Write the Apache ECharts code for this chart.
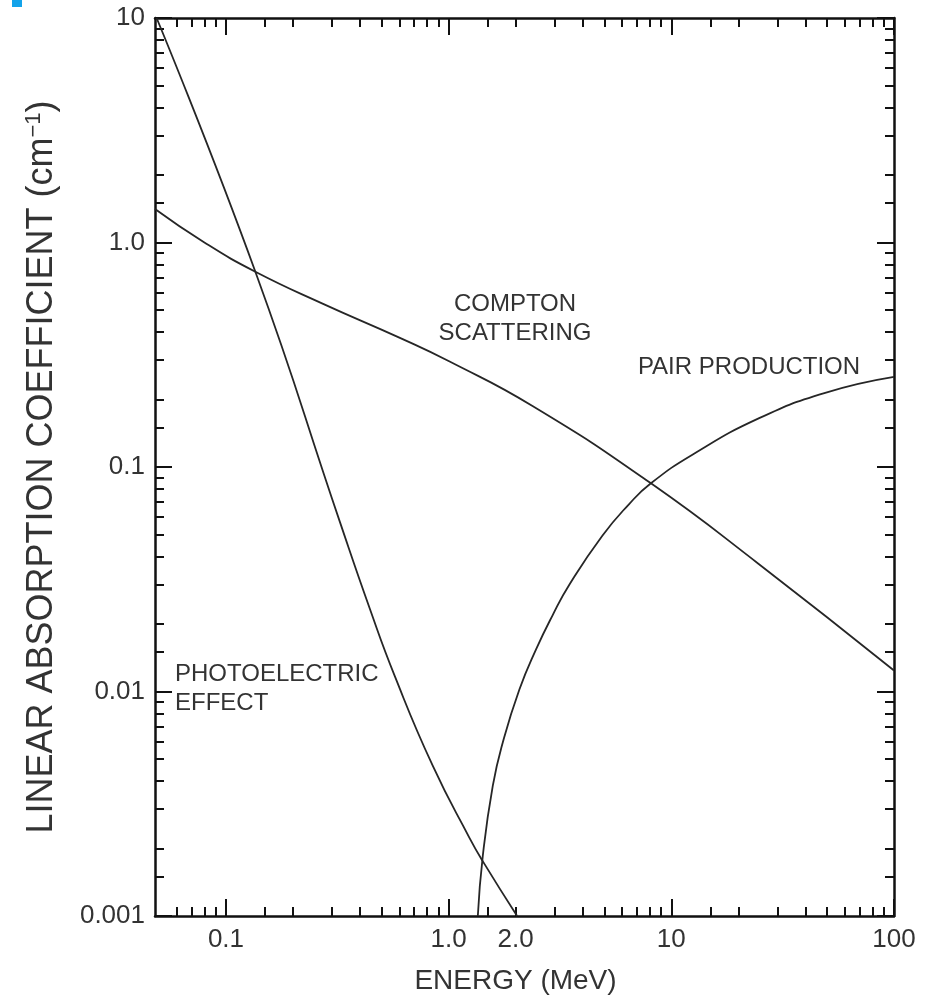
<!DOCTYPE html>
<html lang="en">
<head>
<meta charset="UTF-8">
<title>Linear absorption coefficient vs energy</title>
<style>
  html, body { margin: 0; padding: 0; background: #fff; }
  #chart { width: 940px; height: 1000px; }
</style>
</head>
<body>
<div id="chart"></div>
<script src="https://cdn.jsdelivr.net/npm/echarts@6.0.0/dist/echarts.min.js"></script>
<script>
// energy in MeV, coefficient in cm^-1
const photoEnergy = [0.0488, 0.1355, 0.325, 0.443, 0.573, 0.848, 1.24, 1.42, 2.03];
const photoCoef = [10, 0.741, 0.0568, 0.0233, 0.0117, 0.00467, 0.00223, 0.00176, 0.001];

const comptonEnergy = [0.048, 0.08, 0.1355, 0.273, 0.604, 1.01, 2.38, 8.07, 24.6, 100];
const comptonCoef = [1.41, 1.0, 0.741, 0.533, 0.376, 0.295, 0.187, 0.0848, 0.0371, 0.0124];

const pairEnergy = [1.352, 1.424, 1.578, 1.75, 2.078, 2.469, 2.929, 3.477, 4.9, 6.45, 8.07, 12.54, 24.8, 49.1, 100];
const pairCoef = [0.001, 0.00186, 0.0038, 0.00593, 0.0102, 0.0154, 0.02185, 0.0298, 0.0494, 0.0682, 0.0844, 0.114, 0.165, 0.214, 0.252];

// ticks and labels
const xRange = [0.048, 100];
const yRange = [0.001, 10];
const xMajorTicks = [0.1, 1, 10, 100];
const xLabelValues = [0.1, 1, 2, 10, 100];
const xMinorTicks = [0.06, 0.07, 0.08, 0.09,
    0.15, 0.2, 0.3, 0.4, 0.5, 0.6, 0.7, 0.8, 0.9,
    1.5, 2, 3, 4, 5, 6, 7, 8, 9,
    15, 20, 30, 40, 50, 60, 70, 80, 90];
const yMajorTicks = [0.001, 0.01, 0.1, 1, 10];
const yDecades = [0.001, 0.01, 0.1, 1];
const minorMantissas = [1.5, 2, 3, 4, 5, 6, 7, 8, 9];
const yMinorTicks = [];
yDecades.forEach(function (d) {
    minorMantissas.forEach(function (m) { yMinorTicks.push(Number((m * d).toPrecision(3))); });
});

const FONT = '"Liberation Sans", Arial, Helvetica, sans-serif';
const INK = '#262626';
const TEXT = '#333';

function pairs(xs, ys) {
    return xs.map(function (x, i) { return [x, ys[i]]; });
}

function fmtX(v) {
    if (v >= 1 && v < 10) return v.toFixed(1);
    return String(Number(v.toPrecision(3)));
}
function fmtY(v) {
    if (v === 1) return '1.0';
    return String(Number(v.toPrecision(3)));
}

function makeAxis(position, range, ticks, len, withLine, labels, fmt) {
    return {
        type: 'log',
        position: position,
        min: range[0],
        max: range[1],
        logBase: 10,
        axisLine: { show: withLine, lineStyle: { color: '#111', width: 2.5 } },
        axisTick: { show: true, inside: true, length: len, customValues: ticks, lineStyle: { color: '#111', width: 2 } },
        axisLabel: labels ? {
            show: true, customValues: labels, formatter: fmt,
            color: TEXT, fontSize: 26, fontFamily: FONT, margin: 10
        } : { show: false },
        minorTick: { show: false },
        splitLine: { show: false },
        minorSplitLine: { show: false }
    };
}

let xMain = makeAxis('bottom', xRange, xMajorTicks, 17, true, xLabelValues, fmtX);
xMain.axisLabel.margin = 11;
xMain.name = 'ENERGY (MeV)';
xMain.nameLocation = 'middle';
xMain.nameGap = 51;
xMain.nameTextStyle = { color: TEXT, fontSize: 28, fontFamily: FONT, padding: [0, 18, 0, 0] };

let yMain = makeAxis('left', yRange, yMajorTicks, 17, true, yMajorTicks, fmtY);
yMain.name = '{t|LINEAR ABSORPTION COEFFICIENT (cm}{s|\u22121}{t|)}';
yMain.nameLocation = 'middle';
yMain.nameGap = 94;
yMain.nameTextStyle = {
    color: TEXT, fontFamily: FONT,
    rich: {
        t: { fontSize: 36, color: TEXT, fontFamily: FONT },
        s: { fontSize: 22, color: TEXT, fontFamily: FONT, verticalAlign: 'top', padding: [0, 0, 16, 0] }
    }
};

function lineSeries(name, xs, ys) {
    return {
        name: name,
        type: 'line',
        xAxisIndex: 0,
        yAxisIndex: 0,
        data: pairs(xs, ys),
        symbol: 'none',
        smooth: 0.5,
        clip: true,
        lineStyle: { color: INK, width: 1.8 }
    };
}

const option = {
    animation: false,
    backgroundColor: '#fff',
    grid: { left: 155, right: 46, top: 18, bottom: 83 },
    xAxis: [
        xMain,
        makeAxis('bottom', xRange, xMinorTicks, 9, false),
        makeAxis('top', xRange, xMajorTicks, 17, true),
        makeAxis('top', xRange, xMinorTicks, 9, false)
    ],
    yAxis: [
        yMain,
        makeAxis('left', yRange, yMinorTicks, 9, false),
        makeAxis('right', yRange, yMajorTicks, 17, true),
        makeAxis('right', yRange, yMinorTicks, 9, false)
    ],
    series: [
        lineSeries('Photoelectric effect', photoEnergy, photoCoef),
        lineSeries('Compton scattering', comptonEnergy, comptonCoef),
        lineSeries('Pair production', pairEnergy, pairCoef)
    ],
    graphic: [
        { type: 'rect', shape: { x: 12, y: 0, width: 10, height: 7 }, style: { fill: '#13a3ea' } },
        { type: 'text', x: 515, y: 304, style: { text: 'COMPTON', font: '24px ' + FONT, fill: TEXT, align: 'center', verticalAlign: 'middle' } },
        { type: 'text', x: 515, y: 333, style: { text: 'SCATTERING', font: '24px ' + FONT, fill: TEXT, align: 'center', verticalAlign: 'middle' } },
        { type: 'text', x: 749, y: 367, style: { text: 'PAIR PRODUCTION', font: '24px ' + FONT, fill: TEXT, align: 'center', verticalAlign: 'middle' } },
        { type: 'text', x: 175, y: 674, style: { text: 'PHOTOELECTRIC', font: '24px ' + FONT, fill: TEXT, align: 'left', verticalAlign: 'middle' } },
        { type: 'text', x: 175, y: 703, style: { text: 'EFFECT', font: '24px ' + FONT, fill: TEXT, align: 'left', verticalAlign: 'middle' } }
    ]
};

const chart = echarts.init(document.getElementById('chart'), null, { renderer: 'canvas' });
chart.setOption(option);
window.onresize = function () {
    chart.resize();
};
</script>
</body>
</html>
